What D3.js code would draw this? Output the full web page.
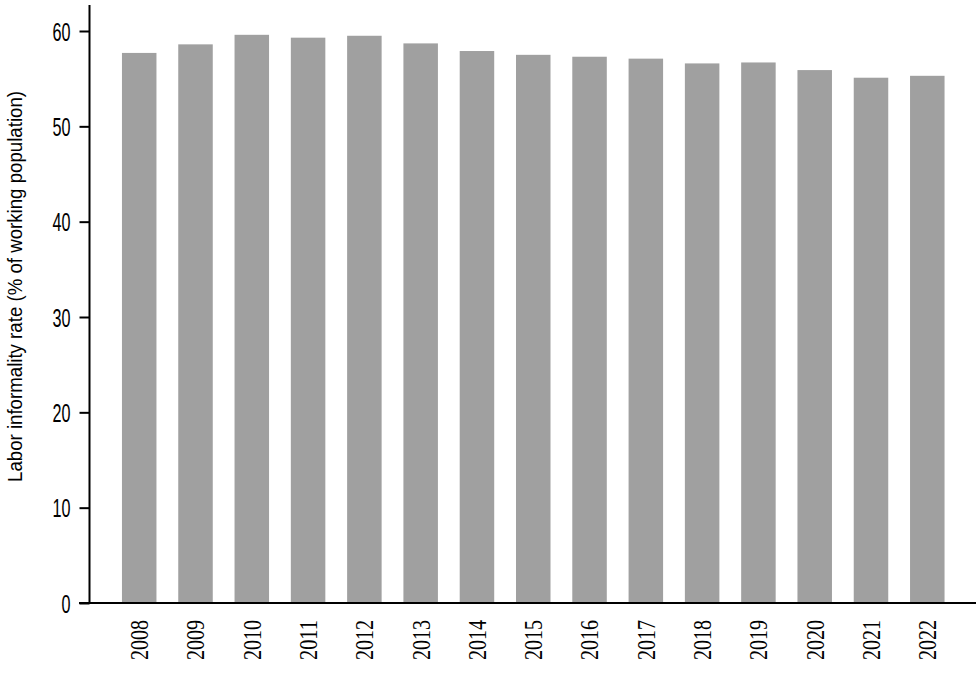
<!DOCTYPE html>
<html>
<head>
<meta charset="utf-8">
<script src="https://cdn.jsdelivr.net/npm/d3@7"></script>
<style>
  html, body { margin: 0; padding: 0; background: #fff; }
  svg { display: block; }
</style>
</head>
<body>
<script>
const years = ["2008","2009","2010","2011","2012","2013","2014","2015","2016","2017","2018","2019","2020","2021","2022"];
const informality = [57.7, 58.6, 59.6, 59.3, 59.5, 58.7, 57.9, 57.5, 57.3, 57.1, 56.6, 56.7, 55.9, 55.1, 55.3];
const yTicks = [0, 10, 20, 30, 40, 50, 60];
const yLabel = "Labor informality rate (% of working population)";

const W = 979, H = 673;
const svg = d3.select("body").append("svg").attr("width", W).attr("height", H);

const y = d3.scaleLinear().domain([0, 60]).range([603, 31]);
const x = d3.scaleBand().domain(years).range([110.7, 955.8]).paddingInner(0.387).paddingOuter(0.2);

// bars
svg.append("g").selectAll("rect").data(years).join("rect")
  .attr("x", (d) => x(d))
  .attr("width", x.bandwidth())
  .attr("y", (d, i) => y(informality[i]))
  .attr("height", (d, i) => y(0) - y(informality[i]))
  .attr("fill", "#a0a0a0");

// y axis
const yAxis = svg.append("g").attr("transform", "translate(89.5,0)")
  .call(d3.axisLeft(y).tickValues(yTicks).tickSize(10).tickFormat(d3.format("d")));
yAxis.select(".domain").attr("d", "M0,5V603").attr("stroke", "#000").attr("stroke-width", 2);
yAxis.selectAll(".tick line").attr("stroke", "#000").attr("stroke-width", 2);
yAxis.selectAll(".tick text")
  .attr("x", -19)
  .attr("dy", "0.36em")
  .style("font-family", "'Liberation Sans', Arial, sans-serif")
  .style("font-weight", "300")
  .attr("font-size", 25)
  .attr("fill", "#000")
  .attr("textLength", (d) => String(d).length * 9)
  .attr("lengthAdjust", "spacingAndGlyphs");

// x axis
const xAxis = svg.append("g").attr("transform", "translate(0,603)")
  .call(d3.axisBottom(x).tickSize(0).tickPadding(0));
xAxis.select(".domain").attr("d", "M79,0H976").attr("stroke", "#000").attr("stroke-width", 2);
xAxis.selectAll(".tick text")
  .attr("transform", "translate(0,17) rotate(-90)")
  .attr("x", 0).attr("y", 0)
  .attr("dy", "0.34em")
  .attr("text-anchor", "end")
  .style("font-family", "'Liberation Serif', 'Times New Roman', serif")
  .attr("font-size", 26)
  .attr("fill", "#000")
  .attr("textLength", 40)
  .attr("lengthAdjust", "spacingAndGlyphs");

// y label
svg.append("text")
  .attr("transform", "translate(22,286.5) rotate(-90)")
  .attr("text-anchor", "middle")
  .style("font-family", "'Liberation Sans', Arial, sans-serif")
  .attr("font-size", 21)
  .attr("fill", "#000")
  .attr("textLength", 391)
  .attr("lengthAdjust", "spacingAndGlyphs")
  .text(yLabel);
</script>
</body>
</html>
